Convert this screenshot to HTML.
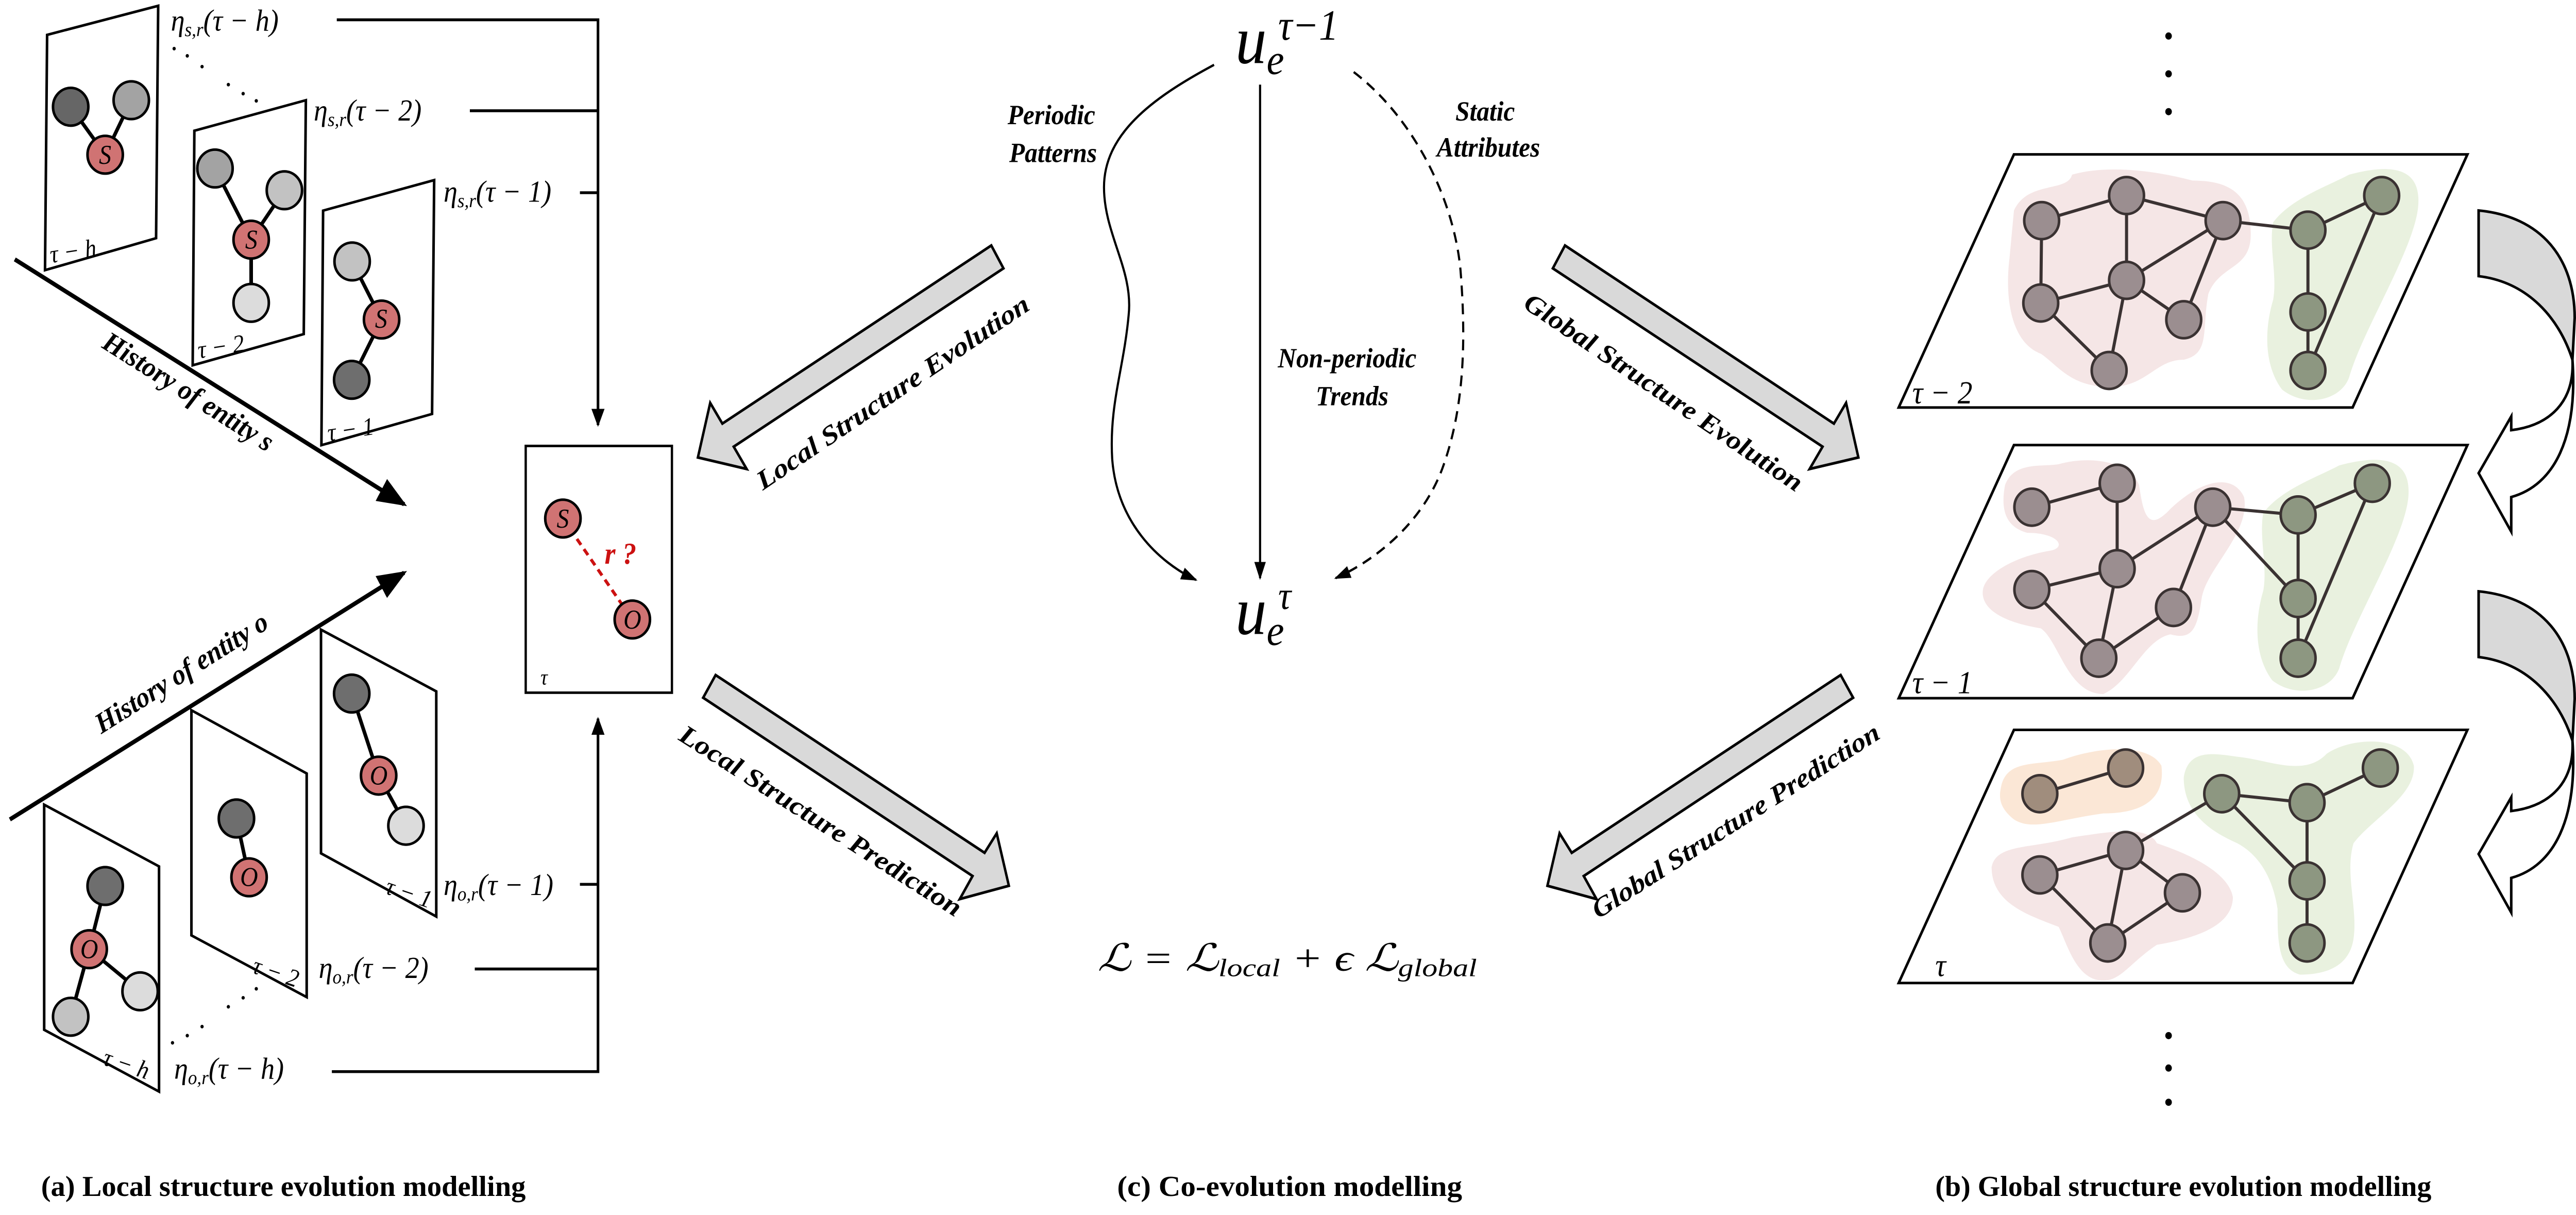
<!DOCTYPE html>
<html><head><meta charset="utf-8">
<style>
html,body{margin:0;padding:0;background:#fff;width:100%;height:100%;overflow:hidden;}
svg{display:block;position:absolute;left:0;top:0;width:100vw;height:100vh;}
text{font-family:"Liberation Serif",serif;}
.bi{font-weight:bold;font-style:italic;}
.it{font-style:italic;}
.cap{font-weight:bold;font-size:16px;}
</style></head>
<body>
<svg viewBox="0 0 1568 674.6" preserveAspectRatio="none" xmlns="http://www.w3.org/2000/svg">
<defs>
<marker id="ah" markerWidth="10" markerHeight="10" refX="9" refY="5" orient="auto" markerUnits="userSpaceOnUse"><path d="M0,1 L10,5 L0,9 Z" fill="#000"/></marker>
<marker id="ahs" markerWidth="10" markerHeight="8" refX="9" refY="4" orient="auto" markerUnits="userSpaceOnUse"><path d="M0,0.5 L10,4 L0,7.5 Z" fill="#000"/></marker>
<marker id="ahb" markerWidth="18" markerHeight="14" refX="16" refY="7" orient="auto" markerUnits="userSpaceOnUse"><path d="M0,0 L18,7 L0,14 Z" fill="#000"/></marker>
</defs>

<g transform="scale(0.25608,0.40323)" fill="none" stroke="#000">
  <g fill="#fff">
    <polygon stroke-width="5" points="112,48 376,8 371,328 107,372" vector-effect="non-scaling-stroke"/>
    <polygon stroke-width="5" points="462,180 727,138 722,460 458,503" vector-effect="non-scaling-stroke"/>
    <polygon stroke-width="5" points="768,290 1032,248 1027,570 764,613" vector-effect="non-scaling-stroke"/>
    <polygon stroke-width="5" points="763,867 1037,952 1037,1262 763,1175" vector-effect="non-scaling-stroke"/>
    <polygon stroke-width="5" points="455,978 729,1065 729,1373 455,1288" vector-effect="non-scaling-stroke"/>
    <polygon stroke-width="5" points="105,1108 378,1193 378,1503 105,1418" vector-effect="non-scaling-stroke"/>
  </g>
  <g>
    <path stroke-width="7" d="M250,213 L168,147 M250,213 L312,138" vector-effect="non-scaling-stroke"/>
    <path stroke-width="7" d="M597,330 L511,232 M597,330 L676,262 M597,330 L597,417" vector-effect="non-scaling-stroke"/>
    <path stroke-width="7" d="M907,440 L837,360 M907,440 L836,523" vector-effect="non-scaling-stroke"/>
    <path stroke-width="7" d="M900,1068 L836,955 M900,1068 L965,1137" vector-effect="non-scaling-stroke"/>
    <path stroke-width="7" d="M592,1208 L562,1127" vector-effect="non-scaling-stroke"/>
    <path stroke-width="7" d="M212,1307 L250,1220 M212,1307 L333,1365 M212,1307 L168,1400" vector-effect="non-scaling-stroke"/>
  </g>
  <path d="M1338,714 L1503,853" stroke="#cc1111" stroke-width="6" stroke-dasharray="14,10" vector-effect="non-scaling-stroke"/>
  <g>
    <ellipse stroke-width="5" cx="168" cy="147" rx="42" ry="26" fill="#666" vector-effect="non-scaling-stroke"/>
    <ellipse stroke-width="5" cx="312" cy="138" rx="42" ry="26" fill="#a3a3a3" vector-effect="non-scaling-stroke"/>
    <ellipse stroke-width="5" cx="250" cy="213" rx="42" ry="26" fill="#d07373" vector-effect="non-scaling-stroke"/>
    <ellipse stroke-width="5" cx="511" cy="232" rx="42" ry="26" fill="#a3a3a3" vector-effect="non-scaling-stroke"/>
    <ellipse stroke-width="5" cx="676" cy="262" rx="42" ry="26" fill="#c2c2c2" vector-effect="non-scaling-stroke"/>
    <ellipse stroke-width="5" cx="597" cy="330" rx="42" ry="26" fill="#d07373" vector-effect="non-scaling-stroke"/>
    <ellipse stroke-width="5" cx="597" cy="417" rx="42" ry="26" fill="#dcdcdc" vector-effect="non-scaling-stroke"/>
    <ellipse stroke-width="5" cx="837" cy="360" rx="42" ry="26" fill="#c2c2c2" vector-effect="non-scaling-stroke"/>
    <ellipse stroke-width="5" cx="907" cy="440" rx="42" ry="26" fill="#d07373" vector-effect="non-scaling-stroke"/>
    <ellipse stroke-width="5" cx="836" cy="523" rx="42" ry="26" fill="#6e6e6e" vector-effect="non-scaling-stroke"/>
    <ellipse stroke-width="5" cx="1338" cy="714" rx="42" ry="26" fill="#d07373" vector-effect="non-scaling-stroke"/>
    <ellipse stroke-width="5" cx="1503" cy="853" rx="42" ry="26" fill="#d07373" vector-effect="non-scaling-stroke"/>
    <ellipse stroke-width="5" cx="836" cy="955" rx="42" ry="26" fill="#6e6e6e" vector-effect="non-scaling-stroke"/>
    <ellipse stroke-width="5" cx="900" cy="1068" rx="42" ry="26" fill="#d07373" vector-effect="non-scaling-stroke"/>
    <ellipse stroke-width="5" cx="965" cy="1137" rx="42" ry="26" fill="#dcdcdc" vector-effect="non-scaling-stroke"/>
    <ellipse stroke-width="5" cx="562" cy="1127" rx="42" ry="26" fill="#6e6e6e" vector-effect="non-scaling-stroke"/>
    <ellipse stroke-width="5" cx="592" cy="1208" rx="42" ry="26" fill="#d07373" vector-effect="non-scaling-stroke"/>
    <ellipse stroke-width="5" cx="250" cy="1220" rx="42" ry="26" fill="#6e6e6e" vector-effect="non-scaling-stroke"/>
    <ellipse stroke-width="5" cx="212" cy="1307" rx="42" ry="26" fill="#d07373" vector-effect="non-scaling-stroke"/>
    <ellipse stroke-width="5" cx="333" cy="1365" rx="42" ry="26" fill="#dcdcdc" vector-effect="non-scaling-stroke"/>
    <ellipse stroke-width="5" cx="168" cy="1400" rx="42" ry="26" fill="#c2c2c2" vector-effect="non-scaling-stroke"/>
  </g>
</g>
<rect x="320" y="247.6" width="89" height="137" fill="none" stroke="#000" stroke-width="1.4"/>
<g class="it" font-size="15" text-anchor="middle">
  <text x="64" y="91">S</text><text x="153" y="138">S</text><text x="232" y="182">S</text>
  <text x="342.6" y="293">S</text><text x="384.9" y="349">O</text>
  <text x="230.5" y="435.6">O</text><text x="151.6" y="492">O</text><text x="54.3" y="532">O</text>
</g>
<text x="368" y="313" class="bi" font-size="17" fill="#cc1111">r ?</text>
<text x="329" y="380" class="it" font-size="12">τ</text>
<g class="it" font-size="14">
  <text x="31" y="146" transform="rotate(-8 31 146)">τ − h</text>
  <text x="121" y="199" transform="rotate(-8 121 199)">τ − 2</text>
  <text x="200" y="245" transform="rotate(-8 200 245)">τ − 1</text>
  <text x="234" y="496" transform="rotate(17 234 496)">τ − 1</text>
  <text x="153" y="540" transform="rotate(17 153 540)">τ − 2</text>
  <text x="62" y="591" transform="rotate(17 62 591)">τ − h</text>
</g>
<line x1="9" y1="144" x2="246" y2="280" stroke="#000" stroke-width="2.4" marker-end="url(#ahb)"/>
<line x1="6" y1="455" x2="246" y2="318" stroke="#000" stroke-width="2.4" marker-end="url(#ahb)"/>
<text x="112" y="222" class="bi" font-size="16" text-anchor="middle" transform="rotate(30 112 222)">History of entity s</text>
<text x="113" y="378" class="bi" font-size="16" text-anchor="middle" transform="rotate(-30 113 378)">History of entity o</text>
<g class="it" font-size="17">
  <text x="104" y="17">η<tspan font-size="11" dy="3">s,r</tspan><tspan dy="-3">(τ − h)</tspan></text>
  <text x="191" y="67">η<tspan font-size="11" dy="3">s,r</tspan><tspan dy="-3">(τ − 2)</tspan></text>
  <text x="270" y="112">η<tspan font-size="11" dy="3">s,r</tspan><tspan dy="-3">(τ − 1)</tspan></text>
  <text x="270" y="497">η<tspan font-size="11" dy="3">o,r</tspan><tspan dy="-3">(τ − 1)</tspan></text>
  <text x="194" y="543">η<tspan font-size="11" dy="3">o,r</tspan><tspan dy="-3">(τ − 2)</tspan></text>
  <text x="106" y="599">η<tspan font-size="11" dy="3">o,r</tspan><tspan dy="-3">(τ − h)</tspan></text>
</g>
<g stroke="#000" stroke-width="1.6" fill="none">
  <path d="M205,11 L364,11 L364,236" marker-end="url(#ah)"/>
  <line x1="286" y1="61.5" x2="364" y2="61.5"/>
  <line x1="353" y1="107" x2="364" y2="107"/>
  <path d="M202,595 L364,595 L364,399" marker-end="url(#ah)"/>
  <line x1="289" y1="538" x2="364" y2="538"/>
  <line x1="353" y1="491" x2="364" y2="491"/>
</g>
<g fill="#000">
  <circle cx="106" cy="27" r="1"/><circle cx="114" cy="31" r="1"/><circle cx="123" cy="37" r="1"/><circle cx="139" cy="47" r="1"/><circle cx="148" cy="52" r="1"/><circle cx="156" cy="56" r="1"/>
  <circle cx="105" cy="579" r="1"/><circle cx="114" cy="575" r="1"/><circle cx="123" cy="570" r="1"/><circle cx="139" cy="559" r="1"/><circle cx="148" cy="554" r="1"/><circle cx="156" cy="549" r="1"/>
</g>

<g fill="#d9d9d9" stroke="#000" stroke-width="1.5" stroke-linejoin="miter">
  <polygon points="603.4,136.3 610.8,149 446.6,248 454.5,260.4 424.8,254 432.3,223.7 439.7,235.2"/>
  <polygon points="435.6,374.8 428,387.4 592,486.4 584.2,499.2 614.1,491.8 606.7,462.7 599.3,473.5"/>
  <polygon points="952.6,136.3 945.2,149 1109.4,248 1101.5,260.4 1131.2,254 1123.7,223.7 1116.3,235.2"/>
  <polygon points="1120.4,374.8 1128,387.4 964,486.4 971.8,499.2 941.9,491.8 949.3,462.7 956.7,473.5"/>
</g>
<g class="bi" font-size="15" text-anchor="middle">
  <text x="546" y="222" transform="rotate(-31.7 546 222)" textLength="192" lengthAdjust="spacingAndGlyphs">Local Structure Evolution</text>
  <text x="497" y="460" transform="rotate(30.3 497 460)" textLength="196" lengthAdjust="spacingAndGlyphs">Local Structure Prediction</text>
  <text x="1010" y="222" transform="rotate(31.7 1010 222)" textLength="196" lengthAdjust="spacingAndGlyphs">Global Structure Evolution</text>
  <text x="1059" y="460" transform="rotate(-30.3 1059 460)" textLength="200" lengthAdjust="spacingAndGlyphs">Global Structure Prediction</text>
</g>
<text x="752" y="35" class="it" font-size="38">u<tspan font-size="24" dy="6">e</tspan></text>
<text x="778" y="22" class="it" font-size="24">τ−1</text>
<text x="752" y="352" class="it" font-size="38">u<tspan font-size="24" dy="6">e</tspan></text>
<text x="778" y="338" class="it" font-size="22">τ</text>
<g fill="none" stroke="#000" stroke-width="1.3">
  <line x1="767" y1="47" x2="767" y2="321" marker-end="url(#ahs)"/>
  <path d="M739,36 C700,55 672,75 672,104 C672,130 690,150 687,175 C684,205 675,225 677,255 C680,290 705,312 728,322" marker-end="url(#ahs)"/>
  <path d="M824,40 C860,65 885,110 889,150 C893,195 890,230 878,260 C865,292 835,312 813,321" stroke-dasharray="6,4" marker-end="url(#ahs)"/>
</g>
<g class="bi" font-size="15.5" text-anchor="middle">
  <text x="640" y="69">Periodic</text><text x="641" y="90">Patterns</text>
  <text x="904" y="67">Static</text><text x="906" y="87">Attributes</text>
  <text x="820" y="204">Non-periodic</text><text x="823" y="225">Trends</text>
</g>
<text x="668" y="539" class="it" font-size="21" textLength="231" lengthAdjust="spacingAndGlyphs">ℒ = ℒ<tspan font-size="14" dy="3">local</tspan><tspan dy="-3"> + ϵ ℒ</tspan><tspan font-size="14" dy="3">global</tspan></text>

<g transform="translate(1144.3,57.2) scale(0.27196,0.33146)">
  <g fill="#fff" stroke="#000">
    <polygon stroke-width="5" points="300,86 1315,86 1058,510 42,510" vector-effect="non-scaling-stroke"/>
    <polygon stroke-width="5" points="300,573 1315,573 1058,997 42,997" vector-effect="non-scaling-stroke"/>
    <polygon stroke-width="5" points="300,1050 1315,1050 1058,1474 42,1474" vector-effect="non-scaling-stroke"/>
  </g>
  <path fill="#f5e6e6" d="M300,180 C330,130 420,150 430,120 C500,105 600,110 700,130 C780,130 830,150 830,220 C830,280 760,270 735,320 C720,380 740,420 680,430 C620,430 600,470 530,475 C430,480 400,440 360,420 C290,400 280,320 290,260 Z"/>
  <path fill="#e9f1df" d="M880,200 C920,160 1000,140 1050,120 C1150,100 1210,110 1205,170 C1200,240 1080,380 1050,460 C1030,500 950,510 900,480 C860,440 860,380 880,330 C890,290 870,240 880,200 Z"/>
  <path fill="#f5e6e6" d="M280,640 C300,600 360,610 400,605 C470,590 560,600 580,640 C590,690 600,720 650,680 C720,630 790,620 815,660 C830,720 730,780 720,830 C710,880 700,900 650,890 C590,900 560,970 500,990 C420,990 400,900 360,880 C280,870 230,850 230,820 C230,790 300,760 380,750 C420,745 400,720 330,720 C280,710 270,680 280,640 Z"/>
  <path fill="#e9f1df" transform="translate(-22,487)" d="M880,200 C920,160 1000,140 1050,120 C1150,100 1210,110 1205,170 C1200,240 1080,380 1050,460 C1030,500 950,510 900,480 C860,440 860,380 880,330 C890,290 870,240 880,200 Z"/>
  <path fill="#e9f1df" d="M680,1130 C690,1080 750,1090 800,1095 C870,1100 950,1130 1000,1090 C1060,1060 1180,1060 1195,1110 C1200,1160 1100,1200 1060,1240 C1040,1290 1070,1350 1060,1400 C1050,1450 990,1460 940,1460 C890,1450 890,1400 890,1350 C880,1300 850,1260 800,1240 C740,1220 680,1190 680,1130 Z"/>
  <path fill="#fbe7d6" d="M270,1150 C280,1100 340,1110 410,1100 C480,1080 600,1070 630,1110 C640,1170 580,1190 500,1190 C400,1200 340,1220 300,1200 C275,1185 265,1170 270,1150 Z"/>
  <path fill="#f5e6e6" d="M250,1280 C260,1240 340,1250 430,1230 C520,1220 600,1210 620,1240 C700,1260 780,1290 790,1330 C790,1380 700,1400 620,1410 C560,1440 540,1470 500,1470 C440,1470 420,1410 400,1380 C330,1360 250,1340 250,1280 Z"/>
  <g stroke="#3a3232" fill="none">
    <path stroke-width="6" vector-effect="non-scaling-stroke" d="M362,197 L552,155 M362,197 L360,335 M552,155 L768,197 M552,155 L552,297 M768,197 L552,297 M768,197 L680,363 M360,335 L552,297 M360,335 L513,448 M552,297 L680,363 M552,297 L513,448 M768,197 L958,213 M958,213 L1123,155 M958,213 L958,350 M958,350 L958,448 M958,448 L1123,155"/>
    <path stroke-width="6" vector-effect="non-scaling-stroke" d="M340,677 L531,637 M531,637 L531,780 M531,780 L745,677 M745,677 L657,845 M340,815 L531,780 M340,815 L490,930 M531,780 L490,930 M490,930 L657,845 M745,677 L936,690 M745,677 L936,830 M936,690 L1102,637 M936,690 L936,830 M936,830 L936,930 M936,930 L1102,637"/>
    <path stroke-width="6" vector-effect="non-scaling-stroke" d="M358,1157 L550,1114 M358,1293 L550,1252 M358,1293 L510,1407 M550,1252 L510,1407 M510,1407 L677,1323 M550,1252 L677,1323 M550,1252 L765,1157 M765,1157 L956,1172 M765,1157 L956,1303 M956,1172 L1120,1114 M956,1172 L956,1303 M956,1303 L956,1407"/>
  </g>
  <g stroke="#3a3232">
    <g fill="#9b8e90">
      <ellipse stroke-width="5" vector-effect="non-scaling-stroke" cx="362" cy="197" rx="39" ry="31"/><ellipse stroke-width="5" vector-effect="non-scaling-stroke" cx="552" cy="155" rx="39" ry="31"/><ellipse stroke-width="5" vector-effect="non-scaling-stroke" cx="768" cy="197" rx="39" ry="31"/><ellipse stroke-width="5" vector-effect="non-scaling-stroke" cx="360" cy="335" rx="39" ry="31"/><ellipse stroke-width="5" vector-effect="non-scaling-stroke" cx="552" cy="297" rx="39" ry="31"/><ellipse stroke-width="5" vector-effect="non-scaling-stroke" cx="680" cy="363" rx="39" ry="31"/><ellipse stroke-width="5" vector-effect="non-scaling-stroke" cx="513" cy="448" rx="39" ry="31"/>
      <ellipse stroke-width="5" vector-effect="non-scaling-stroke" cx="340" cy="677" rx="39" ry="31"/><ellipse stroke-width="5" vector-effect="non-scaling-stroke" cx="531" cy="637" rx="39" ry="31"/><ellipse stroke-width="5" vector-effect="non-scaling-stroke" cx="745" cy="677" rx="39" ry="31"/><ellipse stroke-width="5" vector-effect="non-scaling-stroke" cx="340" cy="815" rx="39" ry="31"/><ellipse stroke-width="5" vector-effect="non-scaling-stroke" cx="531" cy="780" rx="39" ry="31"/><ellipse stroke-width="5" vector-effect="non-scaling-stroke" cx="657" cy="845" rx="39" ry="31"/><ellipse stroke-width="5" vector-effect="non-scaling-stroke" cx="490" cy="930" rx="39" ry="31"/>
      <ellipse stroke-width="5" vector-effect="non-scaling-stroke" cx="358" cy="1293" rx="39" ry="31"/><ellipse stroke-width="5" vector-effect="non-scaling-stroke" cx="550" cy="1252" rx="39" ry="31"/><ellipse stroke-width="5" vector-effect="non-scaling-stroke" cx="677" cy="1323" rx="39" ry="31"/><ellipse stroke-width="5" vector-effect="non-scaling-stroke" cx="510" cy="1407" rx="39" ry="31"/>
    </g>
    <g fill="#8d9781">
      <ellipse stroke-width="5" vector-effect="non-scaling-stroke" cx="958" cy="213" rx="39" ry="31"/><ellipse stroke-width="5" vector-effect="non-scaling-stroke" cx="1123" cy="155" rx="39" ry="31"/><ellipse stroke-width="5" vector-effect="non-scaling-stroke" cx="958" cy="350" rx="39" ry="31"/><ellipse stroke-width="5" vector-effect="non-scaling-stroke" cx="958" cy="448" rx="39" ry="31"/>
      <ellipse stroke-width="5" vector-effect="non-scaling-stroke" cx="936" cy="690" rx="39" ry="31"/><ellipse stroke-width="5" vector-effect="non-scaling-stroke" cx="1102" cy="637" rx="39" ry="31"/><ellipse stroke-width="5" vector-effect="non-scaling-stroke" cx="936" cy="830" rx="39" ry="31"/><ellipse stroke-width="5" vector-effect="non-scaling-stroke" cx="936" cy="930" rx="39" ry="31"/>
      <ellipse stroke-width="5" vector-effect="non-scaling-stroke" cx="765" cy="1157" rx="39" ry="31"/><ellipse stroke-width="5" vector-effect="non-scaling-stroke" cx="956" cy="1172" rx="39" ry="31"/><ellipse stroke-width="5" vector-effect="non-scaling-stroke" cx="1120" cy="1114" rx="39" ry="31"/><ellipse stroke-width="5" vector-effect="non-scaling-stroke" cx="956" cy="1303" rx="39" ry="31"/><ellipse stroke-width="5" vector-effect="non-scaling-stroke" cx="956" cy="1407" rx="39" ry="31"/>
    </g>
    <g fill="#a08d7d">
      <ellipse stroke-width="5" vector-effect="non-scaling-stroke" cx="358" cy="1157" rx="39" ry="31"/><ellipse stroke-width="5" vector-effect="non-scaling-stroke" cx="550" cy="1114" rx="39" ry="31"/>
    </g>
  </g>
  <g stroke="#000" stroke-linejoin="miter">
    <path stroke-width="5" vector-effect="non-scaling-stroke" fill="#d9d9d9" d="M1340,180 C1480,190 1555,260 1555,360 L1550,430 C1520,360 1450,300 1340,290 Z"/>
    <path stroke-width="5" vector-effect="non-scaling-stroke" fill="#fff" d="M1550,430 C1555,500 1500,540 1413,548 L1413,525 L1340,620 L1413,718 L1413,660 C1510,640 1562,560 1550,430 Z"/>
    <g transform="translate(0,638)">
      <path stroke-width="5" vector-effect="non-scaling-stroke" fill="#d9d9d9" d="M1340,180 C1480,190 1555,260 1555,360 L1550,430 C1520,360 1450,300 1340,290 Z"/>
      <path stroke-width="5" vector-effect="non-scaling-stroke" fill="#fff" d="M1550,430 C1555,500 1500,540 1413,548 L1413,525 L1340,620 L1413,718 L1413,660 C1510,640 1562,560 1550,430 Z"/>
    </g>
  </g>
</g>
<g class="it" font-size="18">
  <text x="1164" y="224">τ − 2</text>
  <text x="1164" y="385">τ − 1</text>
  <text x="1178" y="542">τ</text>
</g>
<g fill="#000">
  <circle cx="1320" cy="20" r="2"/><circle cx="1320" cy="41" r="2"/><circle cx="1320" cy="62" r="2"/>
  <circle cx="1320" cy="575" r="2"/><circle cx="1320" cy="593" r="2"/><circle cx="1320" cy="612" r="2"/>
</g>

<text x="25" y="664" class="cap" textLength="295" lengthAdjust="spacingAndGlyphs">(a) Local structure evolution modelling</text>
<text x="680" y="664" class="cap" textLength="210" lengthAdjust="spacingAndGlyphs">(c) Co-evolution  modelling</text>
<text x="1178" y="664" class="cap" textLength="302" lengthAdjust="spacingAndGlyphs">(b) Global structure evolution modelling</text>
</svg>
</body></html>
